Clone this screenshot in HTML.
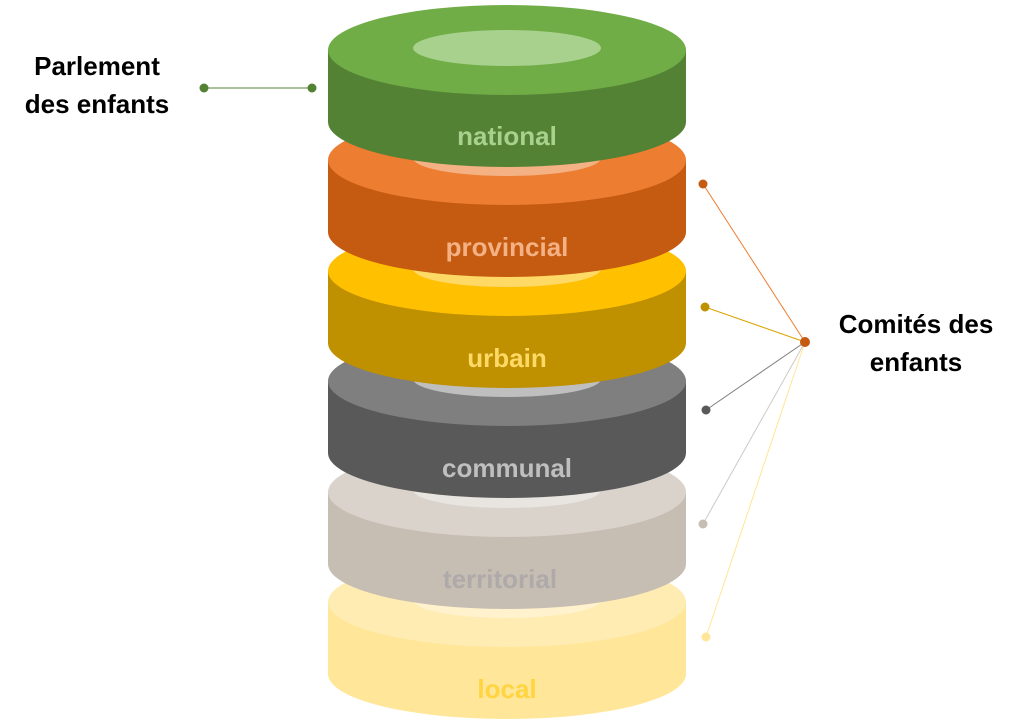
<!DOCTYPE html>
<html><head><meta charset="utf-8"><style>
html,body{margin:0;padding:0;background:#fff;}
svg{display:block;}
text{font-family:"Liberation Sans",sans-serif;font-weight:bold;}
</style></head><body>
<svg width="1024" height="726" viewBox="0 0 1024 726" xmlns="http://www.w3.org/2000/svg">
<g>
<path d="M328,602 L328,674 A179,45 0 0 0 686,674 L686,602 Z" fill="#FFE699"/>
<ellipse cx="507" cy="602" rx="179" ry="45" fill="#FFECB3"/>
<ellipse cx="507" cy="600" rx="94" ry="18" fill="#FFF2CC"/>
<text x="507" y="698" text-anchor="middle" font-size="26" fill="#FFD43F">local</text>
</g>
<g>
<path d="M328,492 L328,564 A179,45 0 0 0 686,564 L686,492 Z" fill="#C6BDB3"/>
<ellipse cx="507" cy="492" rx="179" ry="45" fill="#D9D3CC"/>
<ellipse cx="507" cy="490" rx="94" ry="18" fill="#E8E4DF"/>
<text x="500" y="588" text-anchor="middle" font-size="26" fill="#AEAAAA">territorial</text>
</g>
<g>
<path d="M328,381 L328,453 A179,45 0 0 0 686,453 L686,381 Z" fill="#595959"/>
<ellipse cx="507" cy="381" rx="179" ry="45" fill="#7F7F7F"/>
<ellipse cx="507" cy="379" rx="94" ry="18" fill="#BFBFBF"/>
<text x="507" y="477" text-anchor="middle" font-size="26" fill="#BFBFBF">communal</text>
</g>
<g>
<path d="M328,271 L328,343 A179,45 0 0 0 686,343 L686,271 Z" fill="#BF9000"/>
<ellipse cx="507" cy="271" rx="179" ry="45" fill="#FFC000"/>
<ellipse cx="507" cy="269" rx="94" ry="18" fill="#FFD966"/>
<text x="507" y="367" text-anchor="middle" font-size="26" fill="#FFD966">urbain</text>
</g>
<g>
<path d="M328,160 L328,232 A179,45 0 0 0 686,232 L686,160 Z" fill="#C55A11"/>
<ellipse cx="507" cy="160" rx="179" ry="45" fill="#ED7D31"/>
<ellipse cx="507" cy="158" rx="94" ry="18" fill="#F4B183"/>
<text x="507" y="256" text-anchor="middle" font-size="26" fill="#F4B183">provincial</text>
</g>
<g>
<path d="M328,50 L328,122 A179,45 0 0 0 686,122 L686,50 Z" fill="#548235"/>
<ellipse cx="507" cy="50" rx="179" ry="45" fill="#70AD47"/>
<ellipse cx="507" cy="48" rx="94" ry="18" fill="#A9D18E"/>
<text x="507" y="145" text-anchor="middle" font-size="26" fill="#A9D18E">national</text>
</g>

<line x1="204" y1="88" x2="312" y2="88" stroke="#548235" stroke-width="1"/>
<circle cx="204" cy="88" r="4.5" fill="#548235"/>
<circle cx="312" cy="88" r="4.5" fill="#548235"/>
<text x="97" y="75" text-anchor="middle" font-size="26" fill="#000">Parlement</text>
<text x="97" y="113" text-anchor="middle" font-size="26" fill="#000">des enfants</text>

<line x1="703" y1="184" x2="805" y2="342" stroke="#ED7D31" stroke-width="1"/>
<line x1="705" y1="307" x2="805" y2="342" stroke="#D9A300" stroke-width="1"/>
<line x1="706" y1="410" x2="805" y2="342" stroke="#7F7F7F" stroke-width="1"/>
<line x1="703" y1="524" x2="805" y2="342" stroke="#D0CAC4" stroke-width="1"/>
<line x1="706" y1="637" x2="805" y2="342" stroke="#FFE699" stroke-width="1"/>
<circle cx="703" cy="184" r="4.5" fill="#C55A11"/>
<circle cx="705" cy="307" r="4.5" fill="#BF9000"/>
<circle cx="706" cy="410" r="4.5" fill="#595959"/>
<circle cx="703" cy="524" r="4.5" fill="#C6BDB3"/>
<circle cx="706" cy="637" r="4.5" fill="#FFE699"/>
<circle cx="805" cy="342" r="5" fill="#C55A11"/>
<text x="916" y="333" text-anchor="middle" font-size="26" fill="#000">Comités des</text>
<text x="916" y="371" text-anchor="middle" font-size="26" fill="#000">enfants</text>
</svg>
</body></html>
